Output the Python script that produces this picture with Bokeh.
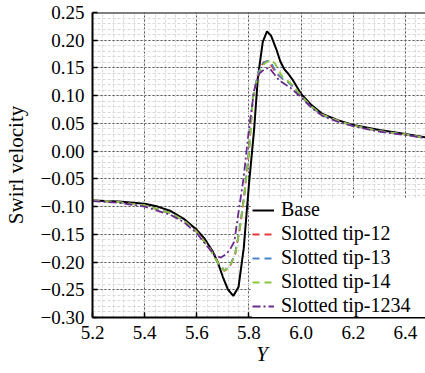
from bokeh.plotting import figure
from bokeh.models import (FixedTicker, CustomJSTickFormatter, Range1d, Span, Legend, LegendItem)
from bokeh.embed import file_html
from bokeh.resources import INLINE

# ---- data ----
base_x = [5.2, 5.3, 5.4, 5.45, 5.5, 5.55, 5.6, 5.63, 5.66, 5.68, 5.70, 5.72, 5.74, 5.76, 5.78,
          5.80, 5.82, 5.834, 5.853, 5.869, 5.885, 5.904, 5.92, 5.935, 5.95, 5.967, 6.0, 6.04,
          6.082, 6.14, 6.2, 6.3, 6.4, 6.5]
base_y = [-0.089, -0.091, -0.095, -0.100, -0.108, -0.122, -0.142, -0.158, -0.180, -0.200, -0.227,
          -0.250, -0.261, -0.245, -0.175, -0.060, 0.040, 0.132, 0.197, 0.216, 0.208, 0.185, 0.162,
          0.148, 0.140, 0.129, 0.103, 0.083, 0.067, 0.056, 0.047, 0.038, 0.031, 0.023]

t12_x = [5.2, 5.3, 5.4, 5.5, 5.55, 5.6, 5.65, 5.68, 5.705, 5.725, 5.747, 5.765, 5.782, 5.80,
         5.815, 5.835, 5.855, 5.869, 5.885, 5.905, 5.93, 5.948, 5.97, 6.0, 6.04, 6.08, 6.14,
         6.2, 6.3, 6.4, 6.5]
t12_y = [-0.089, -0.092, -0.098, -0.112, -0.125, -0.145, -0.175, -0.200, -0.216, -0.210, -0.186,
         -0.140, -0.080, 0.000, 0.097, 0.140, 0.160, 0.162, 0.155, 0.140, 0.130, 0.126, 0.117,
         0.100, 0.080, 0.066, 0.055, 0.046, 0.036, 0.030, 0.022]

t13_x = [5.2, 5.3, 5.4, 5.5, 5.55, 5.6, 5.65, 5.68, 5.705, 5.725, 5.747, 5.765, 5.782, 5.80,
         5.815, 5.835, 5.855, 5.872, 5.888, 5.905, 5.93, 5.948, 5.97, 6.0, 6.04, 6.08, 6.14,
         6.2, 6.3, 6.4, 6.5]
t13_y = [-0.089, -0.092, -0.098, -0.112, -0.125, -0.146, -0.176, -0.201, -0.215, -0.209, -0.185,
         -0.138, -0.078, 0.002, 0.098, 0.141, 0.159, 0.163, 0.157, 0.142, 0.130, 0.125, 0.116,
         0.099, 0.079, 0.065, 0.054, 0.046, 0.036, 0.030, 0.022]

t14_x = [5.2, 5.3, 5.4, 5.5, 5.55, 5.6, 5.65, 5.68, 5.705, 5.725, 5.747, 5.765, 5.782, 5.80,
         5.815, 5.835, 5.86, 5.884, 5.90, 5.915, 5.93, 5.948, 5.97, 6.0, 6.04, 6.08, 6.14,
         6.2, 6.3, 6.4, 6.5]
t14_y = [-0.089, -0.092, -0.098, -0.112, -0.125, -0.146, -0.176, -0.201, -0.215, -0.210, -0.186,
         -0.140, -0.082, -0.004, 0.094, 0.138, 0.158, 0.165, 0.158, 0.145, 0.133, 0.127, 0.118,
         0.100, 0.080, 0.066, 0.055, 0.046, 0.036, 0.030, 0.022]

t1234_x = [5.2, 5.3, 5.4, 5.5, 5.55, 5.6, 5.64, 5.67, 5.693, 5.715, 5.73, 5.744, 5.76, 5.779,
           5.80, 5.82, 5.84, 5.86, 5.878, 5.895, 5.915, 5.94, 5.96, 6.0, 6.04, 6.08, 6.14,
           6.2, 6.3, 6.4, 6.5]
t1234_y = [-0.090, -0.093, -0.100, -0.115, -0.128, -0.148, -0.172, -0.188, -0.192, -0.185, -0.175,
           -0.163, -0.110, -0.050, 0.040, 0.110, 0.140, 0.148, 0.150, 0.140, 0.128, 0.120, 0.114,
           0.097, 0.078, 0.064, 0.053, 0.045, 0.035, 0.029, 0.022]

series_names = ["Base", "Slotted tip-12", "Slotted tip-13", "Slotted tip-14", "Slotted tip-1234"]

x_ticks = [5.2, 5.4, 5.6, 5.8, 6.0, 6.2, 6.4]
y_ticks = [-0.30, -0.25, -0.20, -0.15, -0.10, -0.05, 0.00, 0.05, 0.10, 0.15, 0.20, 0.25]

x_minor = [round(5.2 + 0.04 * i, 4) for i in range(0, 34)]
y_minor = [round(-0.30 + 0.01 * i, 4) for i in range(0, 56)]

FONT = "'Liberation Serif', 'Times New Roman', serif"

p = figure(frame_width=339, frame_height=305, output_backend="svg", toolbar_location=None,
           x_range=Range1d(5.2, 6.5), y_range=Range1d(-0.30, 0.25),
           min_border_left=78, min_border_right=0, min_border_top=12, min_border_bottom=48)
p.outline_line_color = None
p.background_fill_color = "white"
p.border_fill_color = "white"

p.xaxis.ticker = FixedTicker(ticks=x_ticks, minor_ticks=x_minor)
p.yaxis.ticker = FixedTicker(ticks=y_ticks, minor_ticks=y_minor)
p.xaxis.formatter = CustomJSTickFormatter(code="return tick.toFixed(1);")
p.yaxis.formatter = CustomJSTickFormatter(
    code="var s = tick.toFixed(2); if (s == '-0.00') { s = '0.00'; } return s.replace('-', '\u2212');")

for ax in (p.xaxis[0], p.yaxis[0]):
    ax.axis_line_color = "black"
    ax.axis_line_width = 2
    ax.major_tick_in = 5
    ax.major_tick_out = 0
    ax.major_tick_line_color = "black"
    ax.major_tick_line_width = 1.5
    ax.minor_tick_line_color = None
    ax.major_label_text_font = FONT
    ax.major_label_text_font_size = "19px"
    ax.major_label_text_color = "black"
    ax.axis_label_text_font = FONT
    ax.axis_label_text_color = "black"

p.xaxis.major_label_standoff = 4
p.yaxis.major_label_standoff = 4
p.xaxis.axis_label = "Y"
p.xaxis.axis_label_text_font_style = "italic"
p.xaxis.axis_label_text_font_size = "21px"
p.xaxis.axis_label_standoff = 0
p.yaxis.axis_label = "Swirl velocity"
p.yaxis.axis_label_text_font_style = "normal"
p.yaxis.axis_label_text_font_size = "21px"
p.yaxis.axis_label_standoff = 10

p.xgrid.grid_line_color = "#555555"
p.ygrid.grid_line_color = "#555555"
p.xgrid.grid_line_dash = "2 2"
p.ygrid.grid_line_dash = "2 2"
p.xgrid.grid_line_width = 1
p.ygrid.grid_line_width = 1
p.xgrid.minor_grid_line_color = "#d9d9d9"
p.ygrid.minor_grid_line_color = "#d9d9d9"
p.xgrid.minor_grid_line_dash = "3 2"
p.ygrid.minor_grid_line_dash = "3 2"

p.add_layout(Span(location=0.25, dimension="width", line_color="black", line_width=2))

r0 = p.line(base_x, base_y, line_color="black", line_width=2)
r1 = p.line(t12_x, t12_y, line_color="#e8373a", line_width=1.8, line_dash="7 5")
r2 = p.line(t13_x, t13_y, line_color="#4a86c8", line_width=1.8, line_dash="7 5")
r3 = p.line(t14_x, t14_y, line_color="#8cc63e", line_width=1.8, line_dash="7 5")
r4 = p.line(t1234_x, t1234_y, line_color="#6a2c8c", line_width=1.8, line_dash="8 3 2 3")

legend = Legend(items=[LegendItem(label=n, renderers=[r]) for n, r in
                       zip(series_names, [r0, r1, r2, r3, r4])],
                location="bottom_right")
legend.border_line_color = None
legend.background_fill_color = "white"
legend.background_fill_alpha = 1.0
legend.label_text_font = FONT
legend.label_text_font_size = "20px"
legend.label_text_color = "black"
legend.glyph_width = 22
legend.glyph_height = 20
legend.label_height = 20
legend.label_width = 150
legend.label_standoff = 7
legend.spacing = 1
legend.padding = 4
legend.margin = 0
p.add_layout(legend)

open("out.html", "w").write(file_html(p, INLINE))
